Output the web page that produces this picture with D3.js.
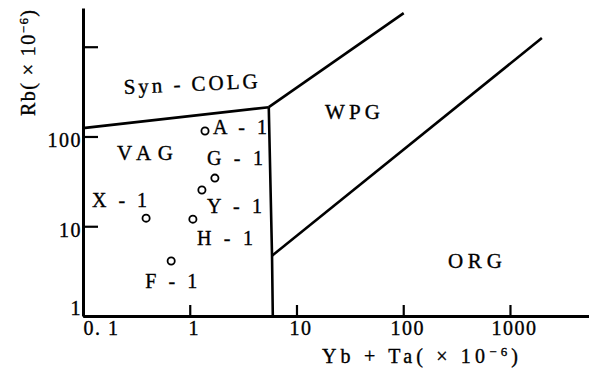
<!DOCTYPE html>
<html><head><meta charset="utf-8">
<script src="https://cdn.jsdelivr.net/npm/d3@7"></script>
<style>
html,body{margin:0;padding:0;background:#fff;}
svg{display:block;font-family:"Liberation Serif","Times New Roman",serif;}
text{fill:#000;stroke:#000;stroke-width:0.35px;}
</style></head><body>
<svg id="chart" width="589" height="372"></svg>
<script>
// Granite samples: Yb+Ta (ppm) against Rb (ppm)
const sampleNames = ["A - 1", "G - 1", "Y - 1", "X - 1", "H - 1", "F - 1"];
const sampleYbTa  = [1.39, 1.72, 1.30, 0.39, 1.07, 0.67];
const sampleRb    = [115, 34.4, 25.3, 12.3, 12.0, 4.1];

// Tectonic field boundaries as [Yb+Ta, Rb] vertices
const boundarySynVag = [[0.1, 124], [5.5, 212]];
const boundarySynWpg = [[5.5, 212], [101, 2370]];
const boundaryVagOrg = [[5.5, 212], [5.9, 4.7], [6.0, 1]];
const boundaryWpgOrg = [[5.9, 4.7], [1990, 1250]];

// Field names
const fieldNames = ["Syn - COLG", "VAG", "WPG", "ORG"];

// Axis ticks
const xTicks = [0.1, 1, 10, 100, 1000];
const xTickLabels = ["0. 1", "1", "10", "100", "1000"];
const yTicks = [1, 10, 100, 1000];
const yTickLabels = ["1", "10", "100", ""];

// ---- layout ----
const svg = d3.select("#chart");
const x = d3.scaleLog().domain([0.1, 5500]).range([83, 589]);
const y = d3.scaleLog().domain([1, 2700]).range([316, 8]);

// field label anchors (data units), rotation and drawn width
const fieldLayout = [
  {x: 0.242, y: 297, rot: -2.6, w: 134},
  {x: 0.208, y: 54.7, rot: 0, w: 56},
  {x: 18.5, y: 157, rot: 0, w: 55},
  {x: 262, y: 3.43, rot: 0, w: 54}
];
// sample label offsets from the marker (px) and drawn width
const sampleLabelLayout = [
  {dx: 8, dy: 3, w: 54},
  {dx: -8, dy: -13, w: 56},
  {dx: 5, dy: 23, w: 55},
  {dx: -54, dy: -11, w: 55},
  {dx: 4, dy: 26, w: 56},
  {dx: -26, dy: 27, w: 52}
];

// boundary lines
const line = d3.line().x(d => x(d[0])).y(d => y(d[1]));
svg.append("g")
  .selectAll("path")
  .data([boundarySynVag, boundarySynWpg, boundaryVagOrg, boundaryWpgOrg])
  .join("path")
  .attr("d", line)
  .attr("fill", "none")
  .attr("stroke", "#000")
  .attr("stroke-width", 2.6)
  .attr("stroke-linejoin", "round");

// axes
const xAxis = d3.axisBottom(x)
  .tickValues(xTicks)
  .tickFormat((d, i) => xTickLabels[i])
  .tickSizeInner(-11).tickSizeOuter(0).tickPadding(5);
const yAxis = d3.axisLeft(y)
  .tickValues(yTicks)
  .tickFormat((d, i) => yTickLabels[i])
  .tickSizeInner(-15).tickSizeOuter(0).tickPadding(1);

const gx = svg.append("g").attr("transform", "translate(0,316)").call(xAxis);
const gy = svg.append("g").attr("transform", "translate(83,0)").call(yAxis);
[gx, gy].forEach(g => {
  g.select(".domain").attr("stroke", "#000").attr("stroke-width", 3);
  g.selectAll(".tick line").attr("stroke", "#000").attr("stroke-width", 2.2);
  g.selectAll(".tick text")
    .style("font-family", "'Liberation Serif', serif")
    .style("font-size", "20px")
    .style("letter-spacing", "1.5px");
});
// x labels sit slightly right of their ticks; the first one starts at the origin
gx.selectAll(".tick text")
  .attr("text-anchor", (d, i) => i === 0 ? "start" : "middle")
  .attr("dx", (d, i) => i === 0 ? 0 : 4);
// y labels: the bottom one is lifted clear of the x axis
gy.selectAll(".tick text")
  .attr("dy", (d, i) => i === 0 ? "-0.1em" : "0.5em");

// sample markers
svg.append("g")
  .selectAll("circle")
  .data(sampleNames)
  .join("circle")
  .attr("cx", (d, i) => x(sampleYbTa[i]))
  .attr("cy", (d, i) => y(sampleRb[i]))
  .attr("r", 3.6)
  .attr("fill", "#fff")
  .attr("stroke", "#000")
  .attr("stroke-width", 1.8);

// sample labels
svg.append("g")
  .selectAll("text")
  .data(sampleNames)
  .join("text")
  .attr("x", (d, i) => x(sampleYbTa[i]) + sampleLabelLayout[i].dx)
  .attr("y", (d, i) => y(sampleRb[i]) + sampleLabelLayout[i].dy)
  .attr("textLength", (d, i) => sampleLabelLayout[i].w)
  .attr("lengthAdjust", "spacing")
  .style("font-size", "20px")
  .text(d => d);

// field labels
svg.append("g")
  .selectAll("text")
  .data(fieldNames)
  .join("text")
  .attr("transform", (d, i) => {
    const f = fieldLayout[i];
    return `translate(${x(f.x)},${y(f.y)}) rotate(${f.rot})`;
  })
  .attr("textLength", (d, i) => fieldLayout[i].w)
  .attr("lengthAdjust", "spacing")
  .style("font-size", "21px")
  .text(d => d);

// axis titles
const xt = svg.append("text")
  .attr("x", 322).attr("y", 363)
  .attr("textLength", 196).attr("lengthAdjust", "spacing")
  .style("font-size", "20px");
xt.append("tspan").text("Yb + Ta( × 10");
xt.append("tspan").attr("dy", -7).style("font-size", "13px").text("−6");
xt.append("tspan").attr("dy", 7).text(")");

const yt = svg.append("text")
  .attr("transform", "translate(35,116) rotate(-90)")
  .attr("textLength", 106).attr("lengthAdjust", "spacing")
  .style("font-size", "20px");
yt.append("tspan").text("Rb( × 10");
yt.append("tspan").attr("dy", -7).style("font-size", "13px").text("−6");
yt.append("tspan").attr("dy", 7).text(")");
</script>
</body></html>
